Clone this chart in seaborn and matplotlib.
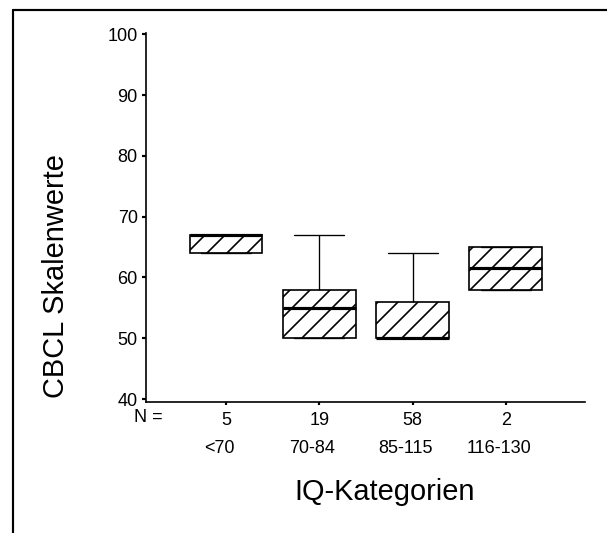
import matplotlib
matplotlib.use("Agg")
import matplotlib.pyplot as plt
import matplotlib.transforms as mtransforms
from matplotlib.lines import Line2D
import numpy as np
import pandas as pd
import seaborn as sns

# IQ groups and their CBCL scale score summaries
categories = ["<70", "70-84", "85-115", "116-130"]
n_counts = ["5", "19", "58", "2"]
lows = [64, 50, 50, 58]
q1s = [64, 50, 50, 58]
medians = [67, 55, 50, 61.5]
q3s = [67, 58, 56, 65]
highs = [67, 67, 64, 65]
y_ticks = [40, 50, 60, 70, 80, 90, 100]

# five-number summary per group as a long table for seaborn
rows = []
for cat, lo, a, m, b, hi in zip(categories, lows, q1s, medians, q3s, highs):
    for v in (lo, a, m, b, hi):
        rows.append({"IQ": cat, "score": v})
df = pd.DataFrame(rows)

sns.set_theme(style="white")
plt.rcParams["font.family"] = ["Liberation Sans", "DejaVu Sans"]
plt.rcParams["hatch.linewidth"] = 1.0
for key in ("text.color", "axes.labelcolor", "xtick.color", "ytick.color"):
    plt.rcParams[key] = "black"

DPI = 120
fig = plt.figure(figsize=(607 / DPI, 533 / DPI), dpi=DPI)
ax = fig.add_axes([0.2405, 0.2467, 0.7239, 0.6912])

sns.boxplot(
    data=df, x="IQ", y="score", order=categories, ax=ax,
    width=0.78, whis=1.5, color="white", saturation=1,
    linecolor="black", linewidth=1.0,
    medianprops=dict(linewidth=1.9, color="black"),
    whiskerprops=dict(linewidth=0.8),
    capprops=dict(linewidth=0.8),
    boxprops=dict(hatch="//", edgecolor="black"),
    capwidths=0.536,
)

ax.set_xlim(-0.857, 3.852)
ax.set_ylim(39.6, 100.2)
ax.set_yticks(y_ticks)
ax.set_yticklabels([str(t) for t in y_ticks], fontsize=10.8, color="black")
ax.set_xticks(range(len(categories)))
ax.set_xticklabels(n_counts, fontsize=10.8, color="black")
ax.set_xlabel("")
ax.set_ylabel("")

for side in ("top", "right"):
    ax.spines[side].set_visible(False)
for side in ("left", "bottom"):
    ax.spines[side].set_color("black")
    ax.spines[side].set_linewidth(1.0)

ax.tick_params(axis="y", direction="out", length=2.5, width=1.3, color="black",
               pad=2.5, left=True)
ax.tick_params(axis="x", direction="out", length=1.5, width=1.3, color="black",
               pad=4.5, bottom=True)

# group names under the N row
trans = mtransforms.blended_transform_factory(ax.transData, ax.transAxes)
for i, cat in enumerate(categories):
    ax.text(i - 0.075, -0.127, cat, transform=trans, ha="center", va="center",
            fontsize=10.8, color="black")

fig.text(162.6 / 607, 1 - 417 / 533, "N =", ha="right", va="center",
         fontsize=10.8, color="black")
fig.text(384.8 / 607, 1 - 491.5 / 533, "IQ-Kategorien", ha="center",
         va="center", fontsize=17.4, color="black")
fig.text(56 / 607, 1 - 276 / 533, "CBCL Skalenwerte", ha="center",
         va="center", rotation=90, fontsize=17.4, color="black")

# outer frame (left and top edges)
fx = 13 / 607
fy = 1 - 10 / 533
fig.add_artist(Line2D([fx, fx], [0, fy], transform=fig.transFigure,
                      color="black", linewidth=1.3))
fig.add_artist(Line2D([fx, 1.0], [fy, fy], transform=fig.transFigure,
                      color="black", linewidth=1.3))

fig.savefig("out.png", dpi=DPI, facecolor="white")
